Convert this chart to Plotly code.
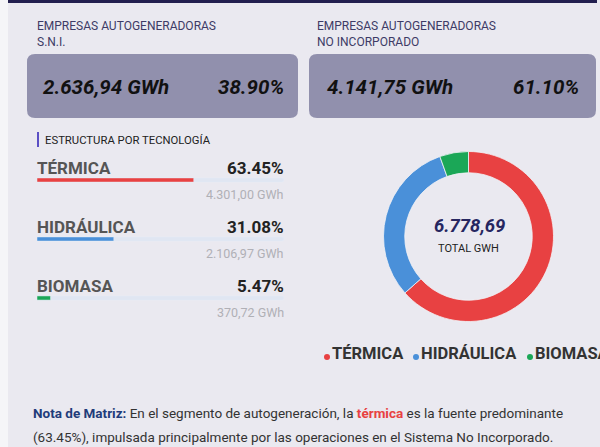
import plotly.graph_objects as go

# ---------------- data ----------------
segments = ["EMPRESAS AUTOGENERADORAS<br>S.N.I.", "EMPRESAS AUTOGENERADORAS<br>NO INCORPORADO"]
segment_gwh = ["2.636,94 GWh", "4.141,75 GWh"]
segment_pct = ["38.90%", "61.10%"]

techs = ["TÉRMICA", "HIDRÁULICA", "BIOMASA"]
tech_pct = [63.45, 31.08, 5.47]
tech_pct_labels = ["63.45%", "31.08%", "5.47%"]
tech_gwh = [4301.00, 2106.97, 370.72]
tech_gwh_labels = ["4.301,00 GWh", "2.106,97 GWh", "370,72 GWh"]
total_label = "6.778,69"
colors = ["#E84142", "#4A90D9", "#1BA757"]

W, H = 600, 447
BG = "#EAE9F0"
FONT = "Roboto"


def px(x):
    return x / W


def py(y):
    return 1 - y / H


def rrect(x0, y0, x1, y1, r):
    X0, X1 = px(x0), px(x1)
    Y0, Y1 = py(y0), py(y1)
    rx, ry = r / W, r / H
    return (f"M {X0+rx} {Y0} L {X1-rx} {Y0} Q {X1} {Y0} {X1} {Y0-ry} "
            f"L {X1} {Y1+ry} Q {X1} {Y1} {X1-rx} {Y1} L {X0+rx} {Y1} "
            f"Q {X0} {Y1} {X0} {Y1+ry} L {X0} {Y0-ry} Q {X0} {Y0} {X0+rx} {Y0} Z")


def text(x, y, s, size, color, xanchor="left", family=FONT):
    return dict(x=px(x), y=py(y), xref="paper", yref="paper", text=s, xanchor=xanchor,
                yanchor="middle", align=xanchor if xanchor != "center" else "center",
                showarrow=False, font=dict(family=family, size=size, color=color))


fig = go.Figure()

# progress bars (horizontal bars on their own axes)
fig.add_trace(go.Bar(
    x=[100] * len(techs), y=list(range(len(techs))), orientation="h",
    marker=dict(color="#E0E6F2", cornerradius=2), width=0.07,
    hoverinfo="skip", showlegend=False, xaxis="x", yaxis="y"))
fig.add_trace(go.Bar(
    x=tech_pct, y=list(range(len(techs))), orientation="h",
    marker=dict(color=colors, cornerradius=2), width=0.07,
    hoverinfo="skip", showlegend=False, xaxis="x", yaxis="y"))

# donut
fig.add_trace(go.Pie(
    labels=techs, values=tech_gwh, hole=0.75, sort=False,
    direction="clockwise", rotation=0,
    marker=dict(colors=colors, line=dict(color="#F2F2F6", width=0.8)),
    textinfo="none", showlegend=False, hoverinfo="skip",
    domain=dict(x=[px(383.5), px(553.5)], y=[py(321.5), py(151.5)])))

bar_y0 = 180  # pixel centre of first bar
bar_step = 59
fig.update_layout(
    barmode="overlay",
    xaxis=dict(domain=[px(37), px(284)], range=[0, 100], visible=False, fixedrange=True),
    yaxis=dict(domain=[py(bar_y0 + 3.0 * bar_step), py(bar_y0 - 0.5 * bar_step)],
               range=[3.0, -0.5], visible=False, fixedrange=True),
)

shapes = []
ann = []

# left light strip and top bar
shapes.append(dict(type="rect", xref="paper", yref="paper", x0=0, x1=px(8), y0=0, y1=1,
                   fillcolor="#F5F5F8", line_width=0, layer="below"))
shapes.append(dict(type="rect", xref="paper", yref="paper", x0=px(8), x1=px(597), y0=py(3), y1=1,
                   fillcolor="#221F4F", line_width=0))

# boxes
boxes = [(27, 54, 298, 118, 42, 286), (309, 54, 596, 118, 326, 581)]
head_x = [36, 316]
for i, (x0, y0, x1, y1, tl, tr) in enumerate(boxes):
    shapes.append(dict(type="path", path=rrect(x0, y0, x1, y1, 8), xref="paper", yref="paper",
                       fillcolor="#9190AD", line_width=0, layer="below"))
    ann.append(text(head_x[i] - 1, 34, segments[i], 12, "#3D3B66"))
    ann.append(text(tl - 1, 87, f"<b><i>{segment_gwh[i]}</i></b>", 20.5, "#111111"))
    ann.append(text(tr, 87, f"<b><i>{segment_pct[i]}</i></b>", 20.5, "#111111", "right"))

# section title
shapes.append(dict(type="rect", xref="paper", yref="paper", x0=px(37), x1=px(39), y0=py(147), y1=py(132),
                   fillcolor="#5B4FC4", line_width=0))
ann.append(text(43, 140, "ESTRUCTURA POR TECNOLOGÍA", 11.3, "#222222"))

# tech rows
for i, t in enumerate(techs):
    yc = bar_y0 + i * bar_step
    ann.append(text(35, yc - 12, f"<b>{t}</b>", 17, "#555555"))
    ann.append(text(286, yc - 12, f"<b>{tech_pct_labels[i]}</b>", 17, "#222222", "right"))
    ann.append(text(286, yc + 14, tech_gwh_labels[i], 12.5, "#B0B0B6", "right"))

# donut centre
ann.append(text(469, 226, f"<b><i>{total_label}</i></b>", 18.5, "#262660", "center"))
ann.append(text(468, 248, "TOTAL GWH", 11, "#222222", "center"))

# custom legend
leg_x = [327, 416, 530]
for i, t in enumerate(techs):
    cx, cy = leg_x[i], 357
    shapes.append(dict(type="circle", xref="paper", yref="paper", x0=px(cx - 3), x1=px(cx + 3),
                       y0=py(cy + 3), y1=py(cy - 3), fillcolor=colors[i], line_width=0))
    ann.append(text(cx + 3, 353, f"<b>{t}</b>", 16.5, "#333333"))

# note
ann.append(text(31, 413,
                ("<b><span style='color:#1F3C7A'>Nota de Matriz:</span></b> En el segmento de autogeneración, la "
                 "<b><span style='color:#E84142'>térmica</span></b> es la fuente predominante"),
                13.5, "#333333"))
ann.append(text(31, 437,
                "(63.45%), impulsada principalmente por las operaciones en el Sistema No Incorporado.",
                13.5, "#333333"))

fig.update_layout(width=W, height=H, margin=dict(l=0, r=0, t=0, b=0),
                  paper_bgcolor=BG, plot_bgcolor=BG, shapes=shapes, annotations=ann,
                  showlegend=False)

fig.write_html("out.html", config={"displayModeBar": False},
               post_script="document.body.style.margin='0';document.body.style.padding='0';"
                           "document.body.style.overflow='hidden';")
